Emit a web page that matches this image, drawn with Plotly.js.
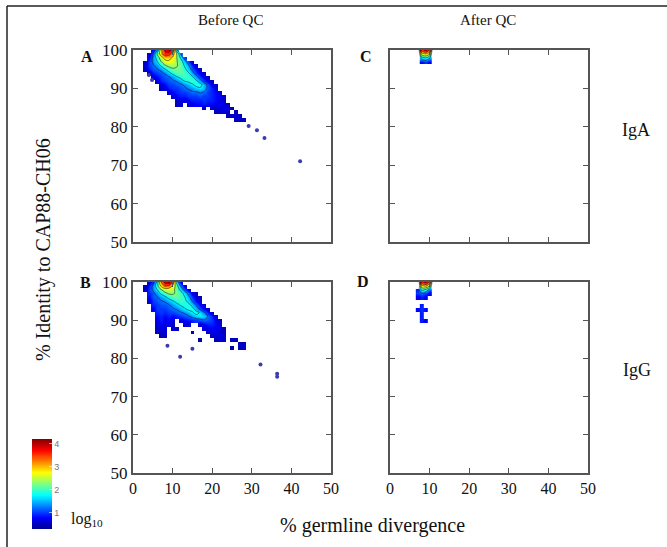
<!DOCTYPE html>
<html><head><meta charset="utf-8">
<script src="https://cdn.plot.ly/plotly-3.0.1.min.js"></script>
<style>html,body{margin:0;padding:0;background:#fff}#chart{width:667px;height:547px}</style>
</head><body><div id="chart"></div>
<script>
// Density rows: [identity %, first germline-divergence %, log10 counts ...]
const rowsA = [
 [100, 5, [0.8,1.5,3.0,3.8,4.0,3.5,1.5]],
 [99, 4, [0.6,1.2,2.2,3.0,3.6,3.5,3.0,2.3,1.2]],
 [98, 4, [0.8,1.3,1.9,2.5,2.9,2.9,2.7,2.3,1.7,1.0]],
 [97, 3, [0.5,1.0,1.3,1.7,2.2,2.6,2.7,2.6,2.3,2.0,1.5,1.0,0.6]],
 [96, 3, [0.6,1.0,1.2,1.4,1.8,2.2,2.4,2.4,2.3,2.1,1.7,1.3,0.9,0.5]],
 [95, 3, [0.5,0.9,1.1,1.2,1.4,1.7,2.0,2.2,2.2,2.1,1.9,1.5,1.1,0.8,0.5]],
 [94, 4, [0.5,0.9,1.0,1.1,1.3,1.6,1.9,2.1,2.1,2.0,1.8,1.4,1.0,0.7,0.5]],
 [93, 5, [0.6,0.8,1.0,1.1,1.2,1.4,1.7,1.9,2.0,2.0,1.8,1.4,1.0,0.7,0.5]],
 [92, 6, [0.6,0.9,1.0,1.1,1.2,1.3,1.5,1.8,1.9,2.0,1.8,1.4,1.0,0.7,0.5]],
 [91, 7, [0.6,0.8,1.0,1.0,1.1,1.2,1.3,1.5,1.7,1.9,1.9,1.5,1.1,0.7,0.5]],
 [90, 7, [0.5,0.7,0.9,1.0,1.0,1.1,1.2,1.3,1.4,1.6,1.7,1.5,1.1,0.9,0.6]],
 [89, 9, [0.6,0.8,0.9,1.0,1.0,1.1,1.2,1.2,1.3,1.2,1.0,0.9,0.8,0.6]],
 [88, 10, [0.6,0.8,0.9,0.9,1.0,1.0,1.0,1.1,1.0,1.0,0.9,0.8,0.7,0.5]],
 [87, 11, [0.5,0.7,0.6,0.8,0.9,0.9,0.9,1.0,0.9,0.9,0.8,0.7,0.6]],
 [86, 11, [0.5,0.6,null,0.6,0.7,0.8,0.8,0.9,0.8,0.8,0.7,0.8,0.6,0.5]],
 [85, 18, [0.4,null,0.5,0.6,0.6,0.7,0.6,0.5]],
 [84, 21, [0.5,0.6,0.6,0.5,null,0.5]],
 [83, 24, [0.5,0.6,0.6,0.5]],
 [82, 26, [0.5,0.6,0.5]]
];
const outA_x = [4.0, 4.8, 29.2, 31.3, 33.2, 42.2];
const outA_y = [93.5, 92.2, 80.2, 79.1, 77.1, 71.0];

const rowsB = [
 [100, 4, [0.6,1.0,1.8,3.2,3.9,4.0,3.3,1.6,0.6]],
 [99, 3, [0.5,0.9,1.3,2.0,2.8,3.3,3.2,2.7,2.0,1.2,0.6]],
 [98, 3, [0.5,1.0,1.3,1.7,2.2,2.5,2.5,2.4,2.1,1.6,1.1,0.6]],
 [97, 4, [0.9,1.1,1.4,1.8,2.1,2.3,2.3,2.2,2.0,1.6,1.1,0.7,0.5]],
 [96, 4, [0.8,1.1,1.2,1.4,1.6,1.9,2.1,2.1,2.0,1.8,1.4,1.0,0.6,0.5]],
 [95, 4, [0.6,1.0,1.1,1.2,1.3,1.5,1.7,1.9,2.0,1.9,1.6,1.2,0.8,0.6]],
 [94, 5, [0.9,1.0,1.1,1.1,1.2,1.4,1.6,1.8,1.9,1.9,1.6,1.2,0.8,0.6]],
 [93, 5, [0.7,1.0,1.0,1.0,1.1,1.2,1.3,1.5,1.7,1.9,1.9,1.5,1.1,0.8,0.6]],
 [92, 6, [0.9,1.0,0.9,1.0,1.0,1.1,1.2,1.3,1.5,1.7,1.9,1.7,1.3,0.9,0.6]],
 [91, 6, [0.8,0.9,0.8,0.9,0.8,0.9,1.0,1.1,1.2,1.4,1.6,1.7,1.6,1.2,0.9,0.6]],
 [90, 6, [0.7,0.9,0.7,0.8,0.6,null,0.7,0.8,0.9,0.9,1.0,1.1,1.2,1.1,1.0,0.7,0.5]],
 [89, 6, [0.6,0.8,0.6,0.7,0.5,null,null,0.6,0.6,null,null,0.6,0.8,0.9,0.9,0.8,0.6]],
 [88, 6, [0.6,0.7,0.6,null,0.6,0.5,null,null,null,null,null,null,0.6,0.7,0.8,0.7,0.6,0.5]],
 [87, 6, [0.5,0.6,0.6,null,null,null,null,null,null,0.5,null,null,null,0.6,0.7,0.7,0.6,0.5]],
 [86, 7, [0.5,0.5,null,null,null,null,null,null,null,null,null,null,null,0.5,0.6,0.7,0.6]],
 [85, 17, [0.4,null,null,null,0.5,0.6,0.5,null,0.5,0.5]],
 [84, 27, [0.5,0.5]],
 [83, 25, [0.4,null,0.5,0.6]]
];
const outB_x = [8.7, 11.9, 15.0, 32.2, 36.4, 36.4];
const outB_y = [83.3, 80.4, 82.5, 78.4, 76.0, 75.2];

const rowsC = [
 [100, 8, [3.5,3.9,3.3]],
 [99, 8, [2.5,2.8,2.3]],
 [98, 8, [1.6,1.8,1.4]],
 [97, 8, [0.8,1.0,0.7]]
];

const rowsD = [
 [100, 8, [3.6,3.9,3.2]],
 [99, 8, [2.6,2.9,2.2]],
 [98, 7, [0.9,1.9,1.7,1.1]],
 [97, 7, [1.0,1.2,1.0,0.7]],
 [96, 7, [0.7,0.9,0.7]],
 [94, 8, [0.9]],
 [93, 7, [0.8,1.0,0.8]],
 [92, 8, [0.9]],
 [91, 8, [0.9]],
 [90, 8, [0.9,0.7]]
];

const xTicks = [0, 10, 20, 30, 40, 50];
const yTicks = [50, 60, 70, 80, 90, 100];
const cbTicks = [1, 2, 3, 4];

function buildGrid(rows) {
  let u0 = Infinity, u1 = -Infinity, v0 = Infinity, v1 = -Infinity;
  rows.forEach(([v, s, vals]) => {
    u0 = Math.min(u0, s); u1 = Math.max(u1, s + vals.length - 1);
    v0 = Math.min(v0, v); v1 = Math.max(v1, v);
  });
  u0 -= 1; u1 += 1; v0 -= 1;
  const xs = [], ys = [];
  for (let u = u0; u <= u1; u++) xs.push(u);
  for (let v = v0; v <= v1; v++) ys.push(v);
  const z = ys.map(() => xs.map(() => null));
  rows.forEach(([v, s, vals]) => vals.forEach((val, k) => { z[v - v0][s - u0 + k] = val; }));
  const zc = z.map(r => r.map(c => c === null ? 0 : c));
  return {xs, ys, z, zc};
}

const jet = [[0,'rgb(0,0,143)'],[0.125,'rgb(0,0,255)'],[0.375,'rgb(0,255,255)'],
             [0.625,'rgb(255,255,0)'],[0.875,'rgb(255,0,0)'],[1,'rgb(128,0,0)']];

const traces = [];
function addPanel(rows, xa, ya, outX, outY) {
  const g = buildGrid(rows);
  traces.push({type:'heatmap', x:g.xs, y:g.ys, z:g.z, xaxis:xa, yaxis:ya,
    coloraxis:'coloraxis', zsmooth:'best', connectgaps:false, hoverinfo:'skip'});
  traces.push({type:'contour', x:g.xs, y:g.ys, z:g.zc, xaxis:xa, yaxis:ya,
    showscale:false, hoverinfo:'skip',
    contours:{coloring:'none', start:1.25, end:3.75, size:0.5},
    line:{color:'rgba(10,10,50,0.75)', width:0.7, smoothing:1}});
  if (outX) traces.push({type:'scatter', mode:'markers', x:outX, y:outY, xaxis:xa, yaxis:ya,
    marker:{size:4, color:'#3b3bb0'}, hoverinfo:'skip'});
}
addPanel(rowsA, 'x', 'y', outA_x, outA_y);
addPanel(rowsC, 'x2', 'y2');
addPanel(rowsB, 'x3', 'y3', outB_x, outB_y);
addPanel(rowsD, 'x4', 'y4');

const W = 667, H = 547;
const px = v => v / W, py = v => 1 - v / H;
const serif = 'Liberation Serif, Times New Roman, serif';

function xAx(dom, labels, anchor) {
  return {domain:dom, range:[0,50], tickvals:xTicks, showticklabels:labels, anchor:anchor,
    ticks:'inside', ticklen:5, tickwidth:1.2, tickcolor:'#555', showline:true, linecolor:'#555',
    linewidth:2, mirror:'ticks', showgrid:false, zeroline:false,
    tickfont:{family:serif, size:16, color:'#111'}};
}
function yAx(dom, labels, anchor) {
  return {domain:dom, range:[50,100], tickvals:yTicks, showticklabels:labels, anchor:anchor,
    ticks:'inside', ticklen:5, tickwidth:1.2, tickcolor:'#555', showline:true, linecolor:'#555',
    linewidth:2, mirror:'ticks', showgrid:false, zeroline:false,
    tickfont:{family:serif, size:17, color:'#111'}};
}
const xL = [px(133), px(331)], xR = [px(390), px(588)];
const yT = [py(242), py(50)], yB = [py(473), py(282)];

function ann(text, x, y, size, extra) {
  return Object.assign({text, x:px(x), y:py(y), xref:'paper', yref:'paper', showarrow:false,
    xanchor:'center', yanchor:'middle', font:{family:serif, size, color:'#111'}}, extra || {});
}

const layout = {
  width:W, height:H, margin:{l:0, r:0, t:0, b:0}, paper_bgcolor:'#fff', plot_bgcolor:'#fff',
  showlegend:false,
  xaxis: xAx(xL, false, 'y'), yaxis: yAx(yT, true, 'x'),
  xaxis2: xAx(xR, false, 'y2'), yaxis2: yAx(yT, false, 'x2'),
  xaxis3: xAx(xL, true, 'y3'), yaxis3: yAx(yB, true, 'x3'),
  xaxis4: xAx(xR, true, 'y4'), yaxis4: yAx(yB, false, 'x4'),
  coloraxis: {colorscale:jet, cmin:0.3, cmax:4.2,
    colorbar:{x:px(32), xanchor:'left', y:1-529/H, yanchor:'bottom', len:90/H, lenmode:'fraction',
      thickness:20, thicknessmode:'pixels', outlinewidth:0, tickvals:cbTicks, ticks:'inside',
      ticklen:3, tickcolor:'rgba(255,255,255,0.6)', tickfont:{family:'Liberation Sans, Arial', size:9, color:'#777'},
      xpad:0, ypad:0}},
  annotations: [
    ann('Before QC', 230, 20, 15),
    ann('After QC', 488, 20, 15),
    ann('<b>A</b>', 87, 57, 16),
    ann('<b>B</b>', 85, 282, 16),
    ann('<b>C</b>', 366, 56, 16),
    ann('<b>D</b>', 363, 281, 16),
    ann('IgA', 636, 130, 18),
    ann('IgG', 637, 370, 18),
    ann('% Identity to CAP88-CH06', 43, 250, 20, {textangle:-90}),
    ann('% germline divergence', 372, 525, 20),
    ann('log<sub>10</sub>', 87, 519, 16)
  ],
  shapes: [
    {type:'line', xref:'paper', yref:'paper', x0:px(7), x1:px(7), y0:py(6), y1:0, line:{color:'#222', width:1.5}},
    {type:'line', xref:'paper', yref:'paper', x0:px(7), x1:1, y0:py(6), y1:py(6), line:{color:'#222', width:1.5}}
  ]
};

Plotly.newPlot('chart', traces, layout, {displayModeBar:false, staticPlot:true});
</script></body></html>
